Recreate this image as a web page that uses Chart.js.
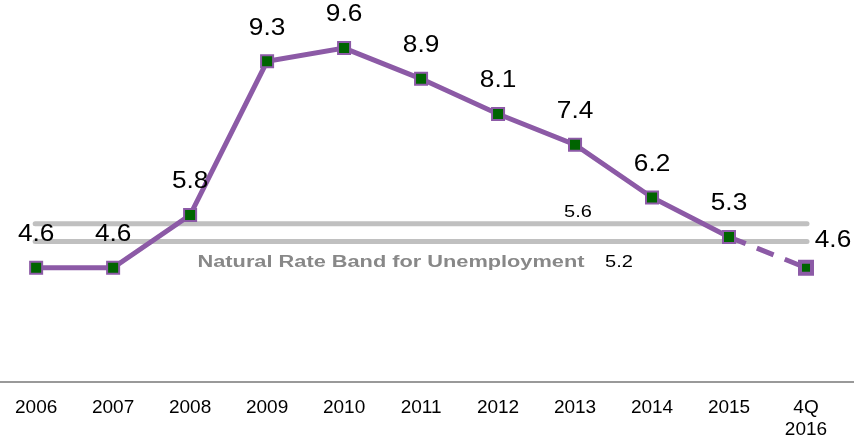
<!DOCTYPE html>
<html>
<head>
<meta charset="utf-8">
<script src="https://cdn.jsdelivr.net/npm/chart.js@4/dist/chart.umd.min.js"></script>
<style>
  html, body { margin: 0; padding: 0; background: #fff; }
  #wrap { width: 854px; height: 439px; position: relative; }
</style>
</head>
<body>
<div id="wrap"><canvas id="unemployment_chart"></canvas></div>
<script>
const years = ["2006", "2007", "2008", "2009", "2010", "2011", "2012", "2013", "2014", "2015", ["4Q", "2016"]];
const rates = [4.6, 4.6, 5.8, 9.3, 9.6, 8.9, 8.1, 7.4, 6.2, 5.3, 4.6];
const bandHigh = 5.6;
const bandLow = 5.2;
const bandLabel = "Natural Rate Band for Unemployment";

const lineColor = "#8c5aa6";
const font = "Liberation Sans, Arial, sans-serif";

// text a bit wider than the font, like the original
const wideText = (ctx, text, x, y, sx) => {
  ctx.save();
  ctx.translate(x, y);
  ctx.scale(sx, 1);
  ctx.fillText(text, 0, 0);
  ctx.restore();
};

// bands, the full-width axis line and the value labels
const overlay = {
  id: "overlay",
  beforeDatasetsDraw(chart) {
    const { ctx, chartArea, scales } = chart;
    const y = scales.y;
    ctx.save();
    ctx.strokeStyle = "#c0c0c0";
    ctx.lineWidth = 5;
    ctx.lineCap = "round";
    [bandHigh, bandLow].forEach((v) => {
      const py = y.getPixelForValue(v);
      ctx.beginPath();
      ctx.moveTo(chartArea.left - 1, py);
      ctx.lineTo(chartArea.right + 1, py);
      ctx.stroke();
    });
    ctx.fillStyle = "#000";
    ctx.font = "16px " + font;
    ctx.textAlign = "center";
    ctx.textBaseline = "middle";
    wideText(ctx, bandHigh.toFixed(1), 578, y.getPixelForValue(bandHigh) - 11, 1.25);
    wideText(ctx, bandLow.toFixed(1), 619, y.getPixelForValue(bandLow) + 21, 1.25);
    ctx.fillStyle = "#888";
    ctx.font = "bold 16px " + font;
    ctx.textBaseline = "alphabetic";
    wideText(ctx, bandLabel, 391, y.getPixelForValue(bandLow) + 26, 1.36);

    ctx.strokeStyle = "#999";
    ctx.lineWidth = 2;
    ctx.lineCap = "butt";
    ctx.beginPath();
    ctx.moveTo(0, chartArea.bottom);
    ctx.lineTo(chart.width, chartArea.bottom);
    ctx.stroke();
    ctx.restore();
  },
  afterDatasetsDraw(chart) {
    const { ctx } = chart;
    const meta = chart.getDatasetMeta(0);
    ctx.save();
    ctx.fillStyle = "#000";
    ctx.font = "23px " + font;
    ctx.textAlign = "center";
    ctx.textBaseline = "middle";
    meta.data.forEach((pt, i) => {
      const last = i === rates.length - 1;
      const dx = last ? 27 : 0;
      const dy = last ? -27 : -33;
      wideText(ctx, rates[i].toFixed(1), pt.x + dx, pt.y + dy, 1.14);
    });
    ctx.restore();
  },
};

const lastIdx = rates.length - 1;
const ctx = document.getElementById("unemployment_chart");
new Chart(ctx, {
  type: "line",
  data: {
    labels: years,
    datasets: [
      {
        data: rates,
        borderColor: lineColor,
        borderWidth: 5,
        pointStyle: "rect",
        pointRadius: 8.5,
        pointBackgroundColor: "#006400",
        pointBorderColor: lineColor,
        pointBorderWidth: (c) => (c.dataIndex === lastIdx ? 4 : 2),
        tension: 0,
        segment: {
          borderDash: (c) => (c.p1DataIndex === lastIdx ? [18, 12] : undefined),
        },
      },
    ],
  },
  options: {
    responsive: true,
    maintainAspectRatio: false,
    animation: false,
    layout: {
      padding: { left: 35, right: 48, top: 0, bottom: 0 },
    },
    plugins: {
      legend: { display: false },
      tooltip: { enabled: false },
    },
    scales: {
      x: {
        offset: false,
        grid: { display: false, drawTicks: false },
        border: { display: false },
        ticks: {
          color: "#000",
          font: { family: font, size: 19, lineHeight: 1.15 },
          padding: 15,
          maxRotation: 0,
          autoSkip: false,
        },
        afterFit: (scale) => {
          scale.height = 57;
        },
      },
      y: {
        display: false,
        min: 2,
        max: 10.41,
      },
    },
  },
  plugins: [overlay],
});
</script>
</body>
</html>
